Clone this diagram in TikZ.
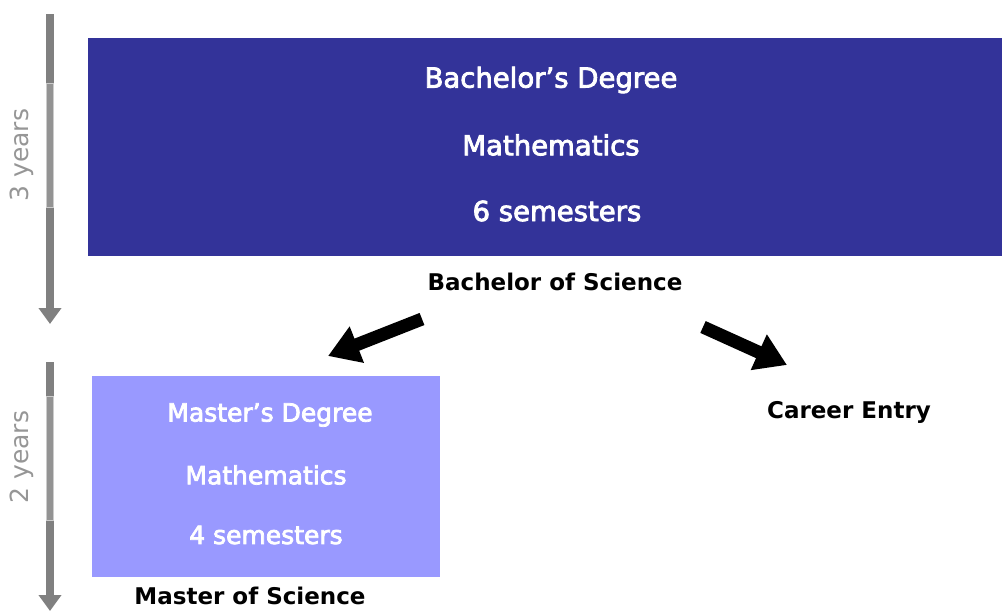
\documentclass[tikz,border=0pt]{standalone}
\usepackage{fontspec}
\setmainfont{DejaVu Sans}
\newfontfamily\wfont{DejaVu Sans}[FakeBold=3]
\usetikzlibrary{arrows.meta}
\definecolor{bachblue}{RGB}{51,51,153}
\definecolor{mastblue}{RGB}{153,153,255}
\definecolor{tlgray}{RGB}{128,128,128}
\definecolor{lblgray}{RGB}{150,150,150}
\tikzset{
  boxtext/.style={text=white,font=\wfont\fontsize{27.5}{32}\selectfont},
  mtext/.style={text=white,font=\wfont\fontsize{25}{30}\selectfont},
  lbl/.style={text=black,font=\bfseries\fontsize{23}{28}\selectfont},
  timeline/.style={draw=tlgray,line width=8,-{Triangle[length=16,width=22]}},
  yrs/.style={text=lblgray,rotate=90,font=\fontsize{25}{30}\selectfont},
  bigarrow/.style={draw=black,line width=13,-{Triangle[length=31,width=37]}}
}
\begin{document}
\begin{tikzpicture}[x=1pt,y=-1pt]
\useasboundingbox (0,0) rectangle (1002,611);
% timelines
\coordinate (t1s) at (50,14);
\coordinate (t1e) at (50,324);
\draw[timeline] (t1s) -- (t1e);
\fill[tlgray!85,draw=tlgray!40,line width=1] (46.5,83) rectangle (53.5,207);
\node[yrs] (y3) at (22,155) {3 years};
\coordinate (t2s) at (50,362);
\coordinate (t2e) at (50,611);
\draw[timeline] (t2s) -- (t2e);
\fill[tlgray!85,draw=tlgray!40,line width=1] (46.5,396) rectangle (53.5,520);
\node[yrs] (y2) at (22,457) {2 years};
% bachelor box
\fill[bachblue] (88,38) rectangle (1002,256);
\node[boxtext] (bd) at (551,80) {Bachelor’s Degree};
\node[boxtext] (bm) at (551,145) {Mathematics};
\node[boxtext] (bs) at (557,211) {6 semesters};
\node[lbl] (bsc) at (555,282) {Bachelor of Science};
% master box
\fill[mastblue] (92,376) rectangle (440,577);
\node[mtext] (md) at (270,415) {Master’s Degree};
\node[mtext] (mm) at (266,475) {Mathematics};
\node[mtext] (ms) at (266,535) {4 semesters};
\node[lbl] (msc) at (250,596) {Master of Science};
\node[lbl] (ce) at (849,412) {Career Entry};
% arrows
\coordinate (a1s) at (422,319);
\coordinate (a1e) at (328,356);
\draw[bigarrow] (a1s) -- (a1e);
\coordinate (a2s) at (703,327);
\coordinate (a2e) at (787,365);
\draw[bigarrow] (a2s) -- (a2e);
\end{tikzpicture}
\end{document}
